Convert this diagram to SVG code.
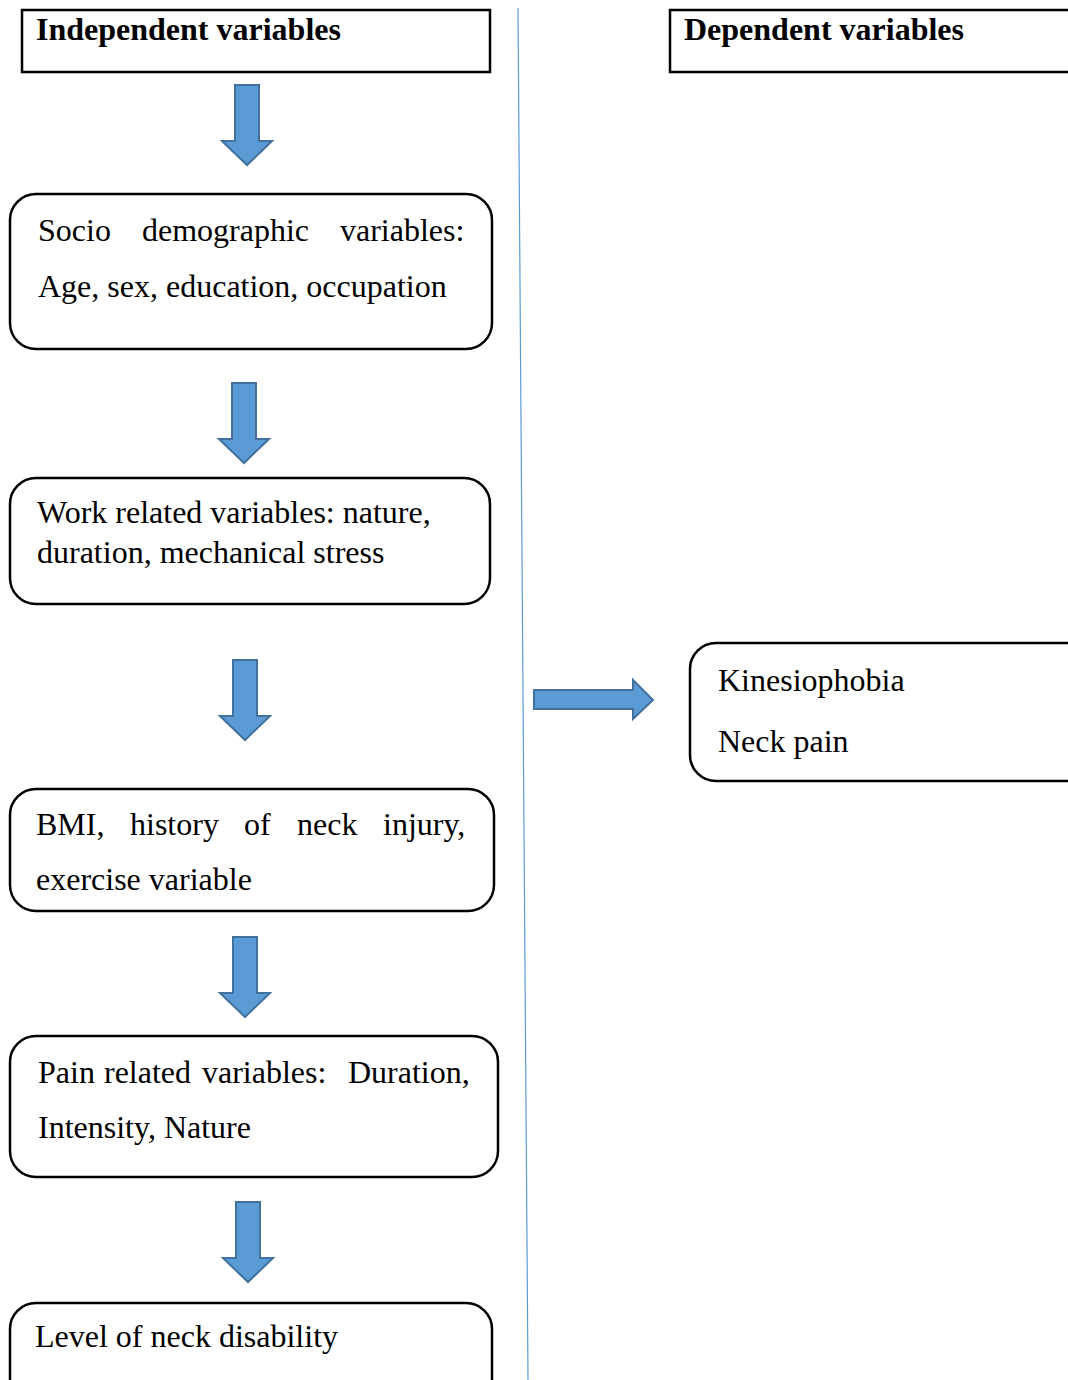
<svg xmlns="http://www.w3.org/2000/svg" width="1068" height="1380" viewBox="0 0 1068 1380">
<style>
.hdr{fill:#fff;stroke:#000;stroke-width:2.5}
.box{fill:#fff;stroke:#000;stroke-width:2.5}
.t{font-family:"Liberation Serif","Times New Roman",serif;font-size:32px;fill:#000}
.b{font-weight:bold}
.arr{fill:#5b9bd5;stroke:#41719c;stroke-width:2}
.div{stroke:#5b9bd5;stroke-width:1.2;fill:none}
</style>
<defs>
<path id="down" d="M-12,0 H12 V56 H25 L0,80 L-25,56 H-12 Z"/>
</defs>
<line class="div" x1="518" y1="8" x2="528" y2="1380"/>
<g id="indep-header">
<rect class="hdr" x="22" y="10" width="468" height="62"/>
<text class="t b" x="36" y="40">Independent variables</text>
</g>
<g id="dep-header">
<rect class="hdr" x="670" y="10" width="410" height="62"/>
<text class="t b" x="684" y="40">Dependent variables</text>
</g>
<g id="socio">
<rect class="box" x="10" y="194" width="482" height="155" rx="26"/>
<text class="t" y="241"><tspan x="38">Socio</tspan><tspan x="142">demographic</tspan><tspan x="340">variables:</tspan></text>
<text class="t" x="38" y="297">Age, sex, education, occupation</text>
</g>
<g id="work">
<rect class="box" x="10" y="478" width="480" height="126" rx="26"/>
<text class="t" x="37" y="523">Work related variables: nature,</text>
<text class="t" x="37" y="563">duration, mechanical stress</text>
</g>
<g id="bmi">
<rect class="box" x="10" y="789" width="484" height="122" rx="26"/>
<text class="t" y="835"><tspan x="36">BMI,</tspan><tspan x="130">history</tspan><tspan x="244">of</tspan><tspan x="297">neck</tspan><tspan x="383">injury,</tspan></text>
<text class="t" x="36" y="890">exercise variable</text>
</g>
<g id="pain">
<rect class="box" x="10" y="1036" width="488" height="141" rx="26"/>
<text class="t" y="1083"><tspan x="38">Pain</tspan><tspan x="104">related</tspan><tspan x="202">variables:</tspan><tspan x="348">Duration,</tspan></text>
<text class="t" x="38" y="1138">Intensity, Nature</text>
</g>
<g id="level">
<rect class="box" x="10" y="1303" width="482" height="120" rx="26"/>
<text class="t" x="35" y="1347">Level of neck disability</text>
</g>
<g id="outcome">
<rect class="box" x="690" y="643" width="420" height="138" rx="26"/>
<text class="t" x="718" y="691">Kinesiophobia</text>
<text class="t" x="718" y="752">Neck pain</text>
</g>
<g id="connectors">
<use href="#down" class="arr" x="247" y="85"/>
<use href="#down" class="arr" x="244" y="383"/>
<use href="#down" class="arr" x="245" y="660"/>
<use href="#down" class="arr" x="245" y="937"/>
<use href="#down" class="arr" x="248" y="1202"/>
<path class="arr" d="M534,690 H633 V680 L653,700 L633,719 V709 H534 Z"/>
</g>
</svg>
